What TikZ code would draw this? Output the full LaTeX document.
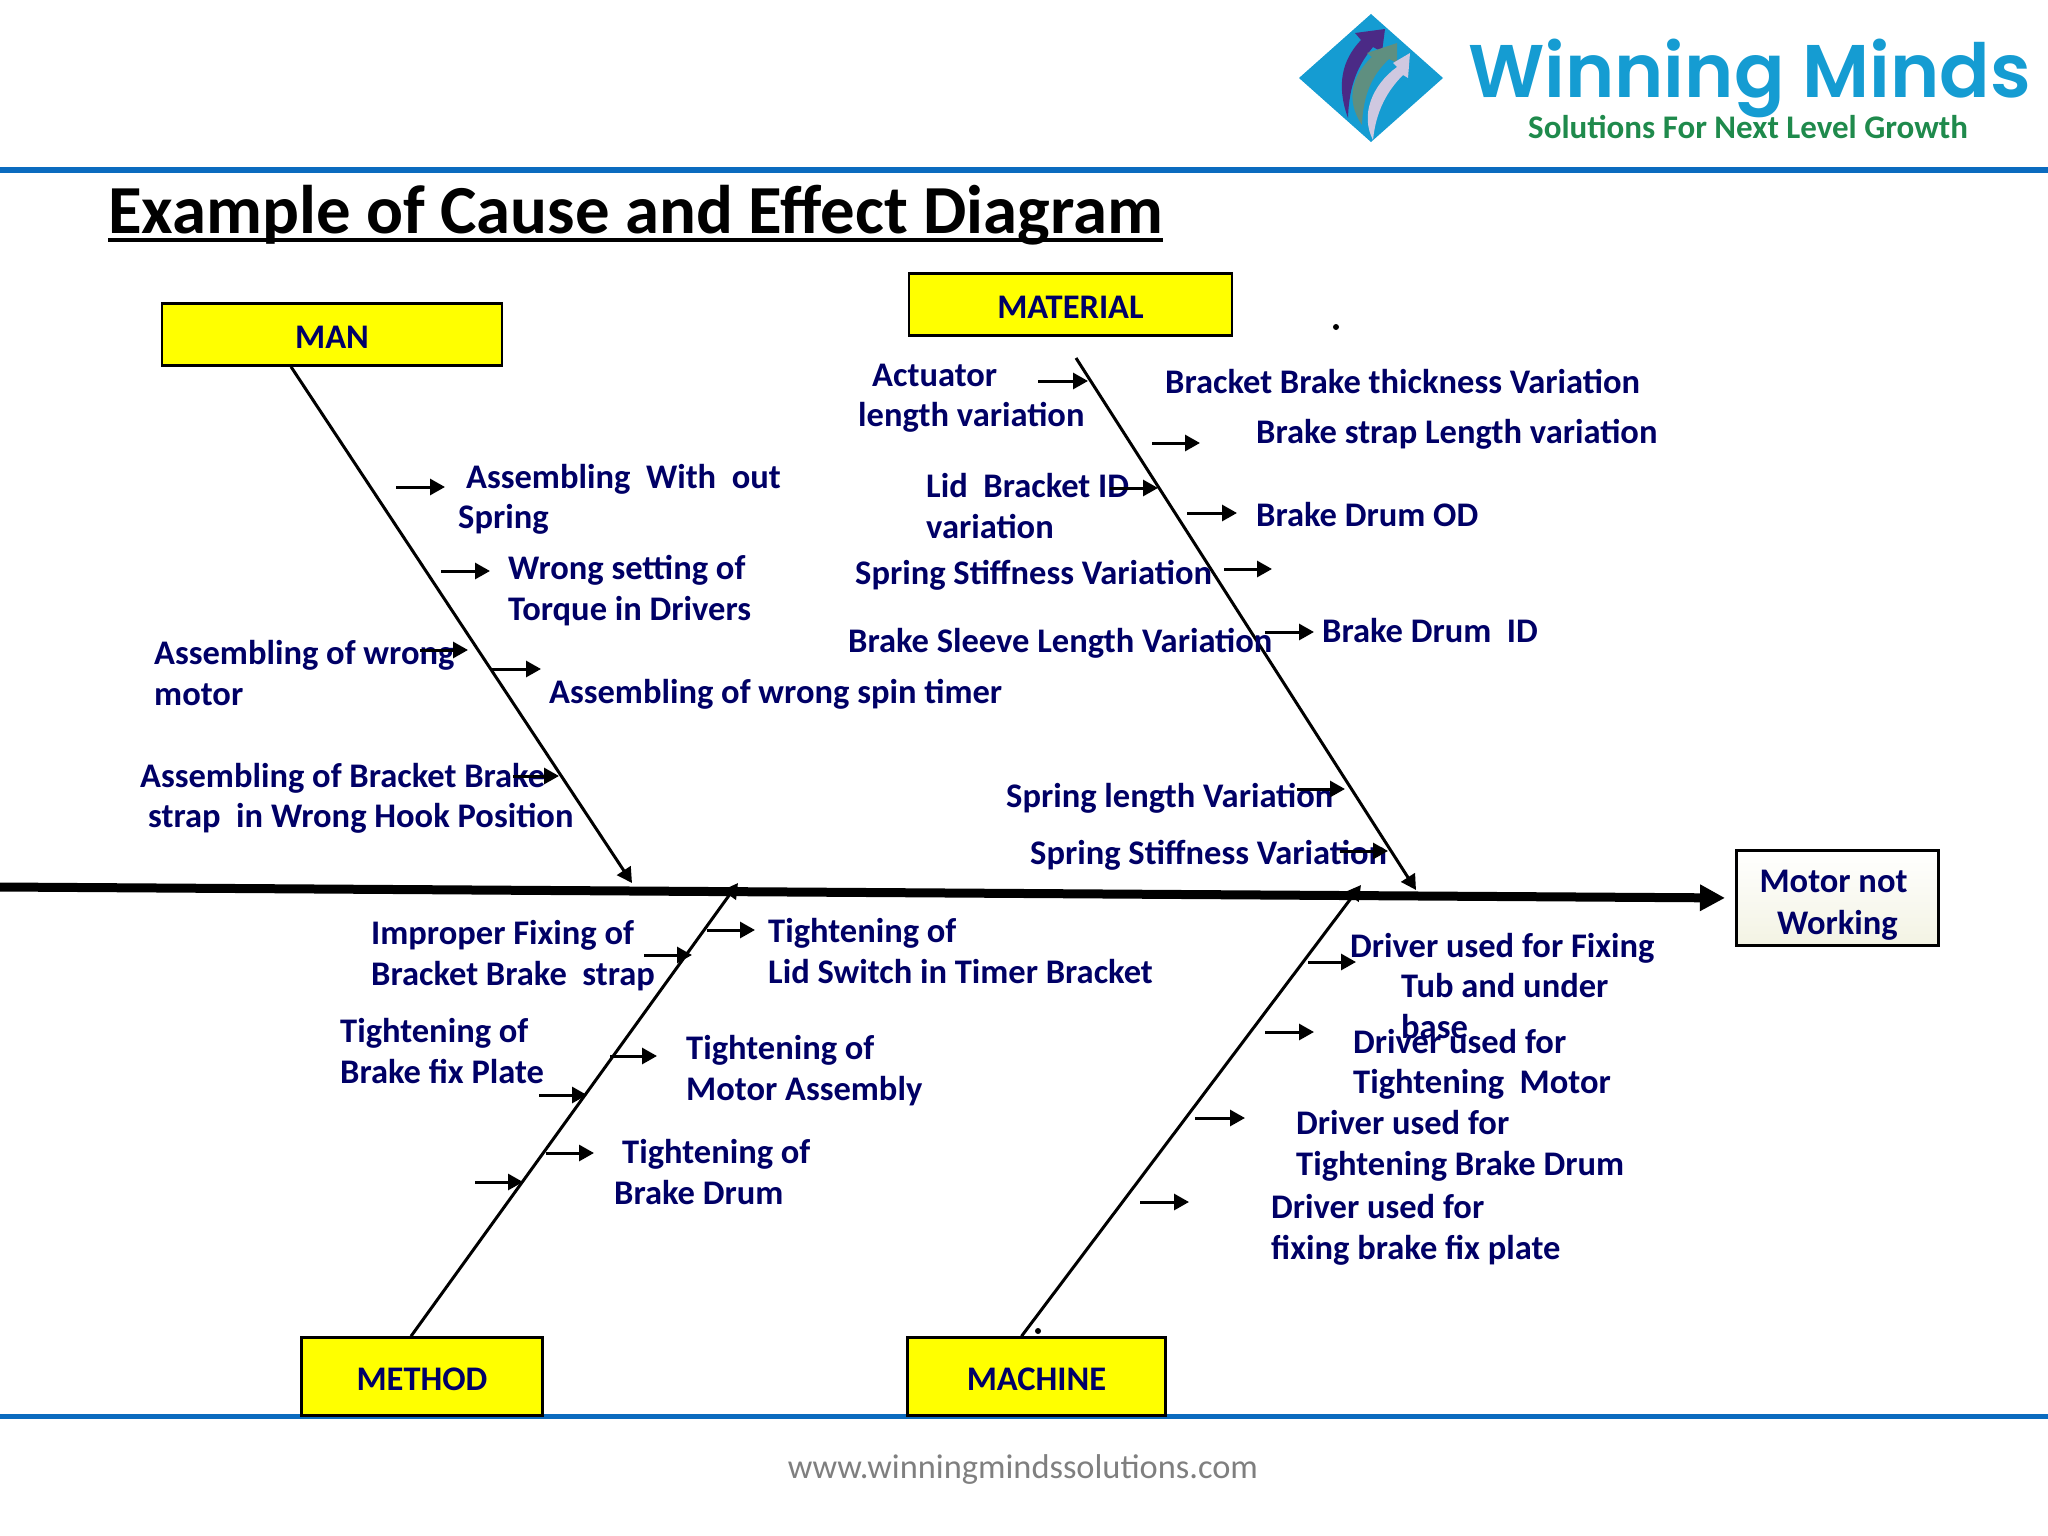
\documentclass[tikz,border=0pt]{standalone}
\usepackage{fontspec}
\setmainfont{Carlito}
\newfontfamily\logofont{Poppins}[BoldFont={Poppins SemiBold}]
\usetikzlibrary{arrows.meta}
\definecolor{navytext}{HTML}{000066}
\definecolor{headfill}{HTML}{FFFF00}
\definecolor{bandblue}{HTML}{0B6BBF}
\definecolor{logoblue}{HTML}{159CD2}
\definecolor{logogreen}{HTML}{1F8A4C}
\definecolor{footgrey}{HTML}{7F7F7F}
\definecolor{swoopA}{HTML}{4B2A86}
\definecolor{swoopB}{HTML}{5F8F80}
\definecolor{swoopC}{HTML}{CFC8E0}
\definecolor{effectfill}{HTML}{F3F3E3}

\begin{document}
\begin{tikzpicture}[x=1pt,y=-1pt,>={Triangle[length=15pt,width=16pt]}]
  \tikzstyle{label}=[anchor=west,inner sep=0pt,align=left,text=navytext,font=\fontsize{34.5}{40.5}\selectfont\bfseries]
  \tikzstyle{head}=[draw=black,line width=2.5pt,fill=headfill,inner sep=0pt,text height=28pt,text depth=0pt,text=navytext,font=\fontsize{34.5}{40.5}\selectfont\bfseries]
  \tikzstyle{bone}=[->,draw=black,line width=3pt]
  \tikzstyle{twig}=[->,draw=black,line width=3pt]
  \useasboundingbox (0,0) rectangle (2048,1536);

  % page bands, footer
  \coordinate (topL) at (0,170);
  \coordinate (topR) at (2048,170);
  \coordinate (botL) at (0,1416);
  \coordinate (botR) at (2048,1416);
  \draw[bandblue,line width=6pt] (topL) -- (topR);
  \draw[bandblue,line width=5pt] (botL) -- (botR);
  \node[text=footgrey,font=\fontsize{34.4}{38}\selectfont] (foot) at (1023,1469) {www.winningmindssolutions.com};

  % logo
  \fill[logoblue] (1371,14) -- (1443,78) -- (1371,142) -- (1299,78) -- cycle;
  \fill[swoopA] (1348,118) .. controls (1336,85) and (1342,60) .. (1361,40) -- (1355,33) -- (1385,29) -- (1382,52) -- (1373,47) .. controls (1358,65) and (1349,85) .. (1348,118) -- cycle;
  \fill[swoopB] (1362,125) .. controls (1345,100) and (1352,75) .. (1372,57) -- (1367,53) -- (1397,43) -- (1397,63) -- (1389,59) .. controls (1372,75) and (1363,95) .. (1362,125) -- cycle;
  \fill[swoopC] (1373,140) .. controls (1360,115) and (1372,85) .. (1397,67) -- (1393,63) -- (1410,53) -- (1408,78) -- (1403,75) .. controls (1388,90) and (1376,110) .. (1373,140) -- cycle;
  \node[anchor=base west,inner sep=0pt,text=logoblue,font=\fontsize{74.6}{74}\logofont\bfseries] (brand) at (1468,98) {Winning Minds};
  \node[anchor=base west,inner sep=0pt,text=logogreen,font=\fontsize{33}{33}\selectfont\bfseries] (slogan) at (1528,139) {Solutions For Next Level Growth};

  % title
  \node[anchor=base west,inner sep=0pt,font=\fontsize{68.8}{70}\selectfont\bfseries] (title) at (108,233) {Example of Cause and Effect Diagram};
  \draw[line width=3.5pt] ([yshift=-7pt]title.base west) -- ([yshift=-7pt]title.base east);

  % category boxes
  \node[head,minimum width=340pt,minimum height=62pt] (man)      at (332,334.5)  {MAN};
  \node[head,minimum width=323pt,minimum height=62pt] (material) at (1070.5,304.5) {MATERIAL};
  \node[head,minimum width=241pt,minimum height=78pt] (method)   at (422,1376.5) {METHOD};
  \node[head,minimum width=258pt,minimum height=78pt] (machine)  at (1036.5,1376.5)  {MACHINE};
  \node[draw=black,line width=3pt,top color=white,bottom color=effectfill,minimum width=202pt,minimum height=95pt,inner sep=0pt,align=center,text=navytext,font=\fontsize{34.5}{42}\selectfont\bfseries] (effect) at (1837.5,898) {\rule{0pt}{37pt}Motor not\hspace*{8pt}\\Working};

  % spine
  \coordinate (tail) at (0,887);
  \draw[->,>={Triangle[length=25pt,width=25pt]},line width=9pt,shorten >=10pt] (tail) -- (effect.west);

  % bones
  \coordinate (manJoin) at (632,883);
  \coordinate (materialJoin) at (1416,890);
  \coordinate (methodJoin) at (738,883);
  \coordinate (machineJoin) at (1361,885);
  \coordinate (materialTop) at (1076,358);
  \draw[bone] ([xshift=-41pt]man.south) -- (manJoin);
  \draw[bone] (materialTop) -- (materialJoin);
  \draw[bone] ([xshift=-11pt]method.north) -- (methodJoin);
  \draw[bone] ([xshift=-15pt]machine.north) -- (machineJoin);

  % causes
  \node[label] (m1) at (458,499.5) {\hspace*{8pt}Assembling\ \ With\ \ out\\Spring};
  \node[label] (m2) at (508,590.5) {Wrong setting of\\Torque in Drivers};
  \node[label] (m3) at (154,673) {Assembling of wrong\\motor};
  \node[label] (m4) at (549,694.5) {Assembling of wrong spin timer};
  \node[label] (m5) at (140,798.5) {Assembling of Bracket Brake\\\hspace*{8pt}strap\ \ in Wrong Hook Position};

  \node[label] (t1) at (858,398)  {\hspace*{14pt}Actuator\\length variation};
  \node[label] (t2) at (1165,381) {Bracket Brake thickness Variation};
  \node[label] (t3) at (1256,434.5) {Brake strap Length variation};
  \node[label] (t4) at (926,506)  {Lid\ \ Bracket ID\\variation};
  \node[label] (t5) at (1256,515) {Brake Drum OD};
  \node[label] (t6) at (855,575.5)  {Spring Stiffness Variation};
  \node[label] (t7) at (848,643.5)  {Brake Sleeve Length Variation};
  \node[label] (t8) at (1322,631) {Brake Drum\ \ ID};
  \node[label] (t9) at (1006,798) {Spring length Variation};
  \node[label] (t10) at (1030,855.5) {Spring Stiffness Variation};

  \node[label] (d1) at (371,955.5)  {Improper Fixing of\\Bracket Brake\ \ strap};
  \node[label] (d2) at (768,951)  {Tightening of\\Lid Switch in Timer Bracket};
  \node[label] (d3) at (340,1051) {Tightening of\\Brake fix Plate};
  \node[label] (d4) at (686,1070.5) {Tightening of\\Motor Assembly};
  \node[label] (d5) at (614,1172) {\hspace*{8pt}Tightening of\\Brake Drum};

  \node[label] (c1) at (1350,986)  {Driver used for Fixing\\\hspace*{51pt}Tub and under\\\hspace*{51pt}base};
  \node[label] (c2) at (1353,1064.5) {Driver used for\\Tightening\ \ Motor};
  \node[label] (c3) at (1296,1146) {Driver used for\\Tightening Brake Drum};
  \node[label] (c4) at (1271,1230) {Driver used for\\fixing brake fix plate};

  % stray dots
  \fill (1336,327) circle (3pt);
  \fill (1038,1331) circle (3pt);

  % small arrows, free ends
  \coordinate (ma1) at (396,487);  \coordinate (mb1) at (445,487);
  \coordinate (ma2) at (441,571);  \coordinate (mb2) at (490,571);
  \coordinate (ma3) at (420,650);  \coordinate (mb3) at (468,650);
  \coordinate (ma4) at (492,669);  \coordinate (mb4) at (541,669);
  \coordinate (ma5) at (513,776);  \coordinate (mb5) at (559,776);

  \coordinate (ta1) at (1038,381); \coordinate (tb1) at (1088,381);
  \coordinate (ta2) at (1152,443); \coordinate (tb2) at (1200,443);
  \coordinate (ta3) at (1110,488); \coordinate (tb3) at (1158,488);
  \coordinate (ta4) at (1187,513); \coordinate (tb4) at (1237,513);
  \coordinate (ta5) at (1224,569); \coordinate (tb5) at (1272,569);
  \coordinate (ta6) at (1265,632); \coordinate (tb6) at (1314,632);
  \coordinate (ta7) at (1297,789); \coordinate (tb7) at (1345,789);
  \coordinate (ta8) at (1340,851); \coordinate (tb8) at (1388,851);

  \coordinate (da1) at (707,930);  \coordinate (db1) at (755,930);
  \coordinate (da2) at (644,955);  \coordinate (db2) at (692,955);
  \coordinate (da3) at (610,1056); \coordinate (db3) at (657,1056);
  \coordinate (da4) at (539,1095); \coordinate (db4) at (587,1095);
  \coordinate (da5) at (546,1153); \coordinate (db5) at (594,1153);
  \coordinate (da6) at (475,1182); \coordinate (db6) at (523,1182);

  \coordinate (ca1) at (1308,962);  \coordinate (cb1) at (1356,962);
  \coordinate (ca2) at (1265,1032); \coordinate (cb2) at (1314,1032);
  \coordinate (ca3) at (1195,1118); \coordinate (cb3) at (1245,1118);
  \coordinate (ca4) at (1140,1202); \coordinate (cb4) at (1189,1202);

  \path[every edge/.style={twig}]
        (ma1) edge (mb1)
        (ma2) edge (mb2)
        (ma3) edge (mb3)
        (ma4) edge (mb4)
        (ma5) edge (mb5)
        (ta1) edge (tb1)
        (ta2) edge (tb2)
        (ta3) edge (tb3)
        (ta4) edge (tb4)
        (ta5) edge (tb5)
        (ta6) edge (tb6)
        (ta7) edge (tb7)
        (ta8) edge (tb8)
        (da1) edge (db1)
        (da2) edge (db2)
        (da3) edge (db3)
        (da4) edge (db4)
        (da5) edge (db5)
        (da6) edge (db6)
        (ca1) edge (cb1)
        (ca2) edge (cb2)
        (ca3) edge (cb3)
        (ca4) edge (cb4);
\end{tikzpicture}
\end{document}
